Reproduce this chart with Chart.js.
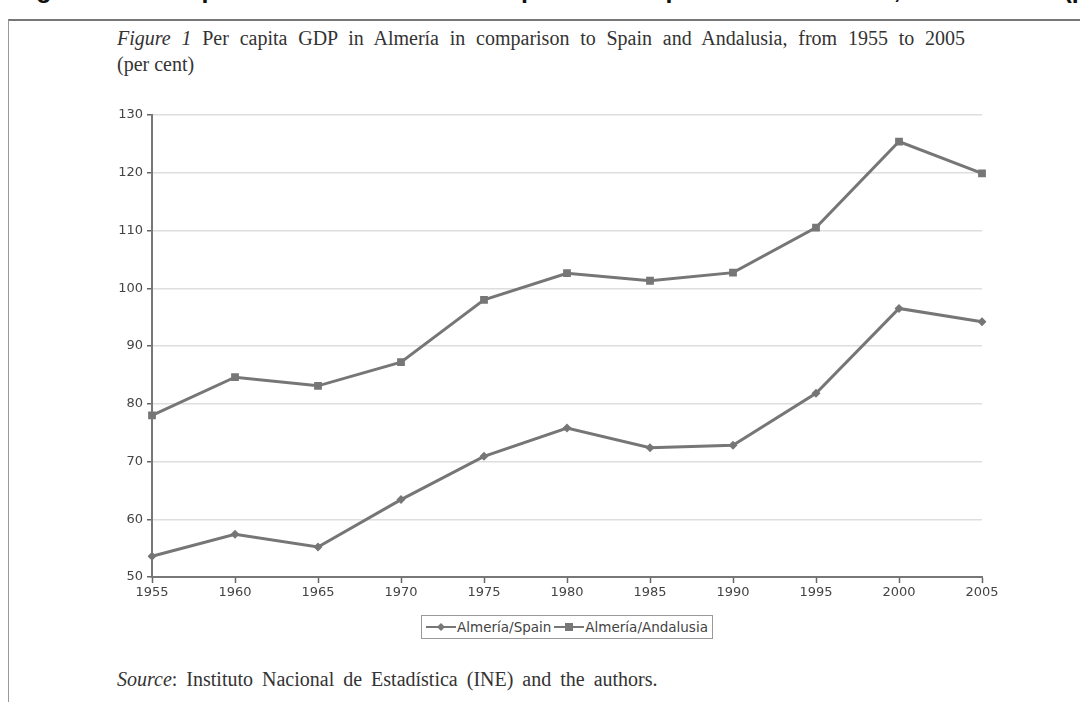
<!DOCTYPE html>
<html><head><meta charset="utf-8">
<script src="https://cdn.jsdelivr.net/npm/chart.js@4/dist/chart.umd.min.js"></script>
<style>
body{margin:0;width:1080px;height:702px;overflow:hidden;background:#fff;position:relative;font-family:"Liberation Serif","Times New Roman",serif;}
#head{position:absolute;left:14px;top:-25px;font:bold 25px "Liberation Sans",Arial,sans-serif;color:#111;white-space:nowrap;}
#box{position:absolute;left:8px;top:19px;width:1090px;height:700px;border-top:2px solid #777;border-left:1px solid #999;background:#fff;}
#t1{position:absolute;left:117px;top:27px;width:848px;font-size:20px;color:#333;text-align:justify;text-align-last:justify;white-space:nowrap;}
#t2{position:absolute;left:117px;top:53px;font-size:20px;color:#333;}
#src{position:absolute;left:117px;top:668px;font-size:20px;color:#333;word-spacing:4px;}
#wrap{position:absolute;left:90px;top:100px;width:920px;height:505px;}
#legend{position:absolute;left:421px;top:615px;width:290px;height:22px;border:1px solid #999;font:13.5px "DejaVu Sans",Verdana,sans-serif;color:#444;display:flex;align-items:center;justify-content:center;gap:3px;}
#legend span{display:inline-flex;align-items:center;gap:1px;}
</style></head>
<body>
<div id="head">Figure 1: Per capita GDP in Almería in comparison to Spain and Andalusia, 1955 to 2005 (per cent), by year, Spain</div>
<div id="box"></div>
<div id="t1"><i>Figure 1</i> Per capita GDP in Almería in comparison to Spain and Andalusia, from 1955 to 2005</div>
<div id="t2">(per cent)</div>
<div id="wrap"><canvas id="c"></canvas></div>
<div id="legend">
<span><svg width="30" height="10"><line x1="0" y1="5" x2="30" y2="5" stroke="#777" stroke-width="2"/><polygon points="15,1 19,5 15,9 11,5" fill="#777"/></svg>Almería/Spain</span>
<span><svg width="30" height="10"><line x1="0" y1="5" x2="30" y2="5" stroke="#777" stroke-width="2"/><rect x="11" y="1" width="8" height="8" fill="#777"/></svg>Almería/Andalusia</span>
</div>
<div id="src"><i>Source</i>: Instituto Nacional de Estadística (INE) and the authors.</div>
<script>
const years = ['1955','1960','1965','1970','1975','1980','1985','1990','1995','2000','2005'];
const almeriaSpain = [53.6, 57.4, 55.2, 63.4, 70.9, 75.8, 72.4, 72.8, 81.8, 96.5, 94.2];
const almeriaAndalusia = [78.0, 84.6, 83.1, 87.2, 98.0, 102.6, 101.3, 102.7, 110.5, 125.4, 119.9];
const yTicks = [50, 60, 70, 80, 90, 100, 110, 120, 130];

const lineColor = '#767676';
new Chart(document.getElementById('c'), {
  type: 'line',
  data: {
    labels: years,
    datasets: [
      {label:'Almería/Spain', data: almeriaSpain, borderColor: lineColor, backgroundColor: lineColor, borderWidth: 3, pointStyle: 'rectRot', pointRadius: 4.5, pointBorderWidth: 0, tension: 0},
      {label:'Almería/Andalusia', data: almeriaAndalusia, borderColor: lineColor, backgroundColor: lineColor, borderWidth: 3, pointStyle: 'rect', pointRadius: 5.5, pointBorderWidth: 0, tension: 0}
    ]
  },
  options: {
    responsive: true, maintainAspectRatio: false, animation: false,
    layout: {padding: {top: 15, right: 28, left: 0, bottom: 0}},
    plugins: {legend: {display: false}, tooltip: {enabled: false}},
    scales: {
      x: {
        type: 'category', offset: false,
        grid: {drawOnChartArea: false, drawTicks: true, tickLength: 6, tickColor: '#666', tickWidth: 1.5},
        border: {color: '#777', width: 2},
        ticks: {color: '#444', font: {family: 'DejaVu Sans', size: 13}, padding: 2, maxRotation: 0, autoSkip: false},
        afterFit: s => { s.height = 28; }
      },
      y: {
        min: yTicks[0], max: yTicks[yTicks.length-1],
        afterBuildTicks: s => { s.ticks = yTicks.map(v => ({value: v})); },
        grid: {color: '#dedede', lineWidth: 1.5, drawTicks: true, tickLength: 5, tickColor: '#666'},
        border: {color: '#777', width: 2},
        ticks: {color: '#444', font: {family: 'DejaVu Sans', size: 13}, padding: 4},
        afterFit: s => { s.width = 62; }
      }
    }
  }
});
</script>
</body></html>
